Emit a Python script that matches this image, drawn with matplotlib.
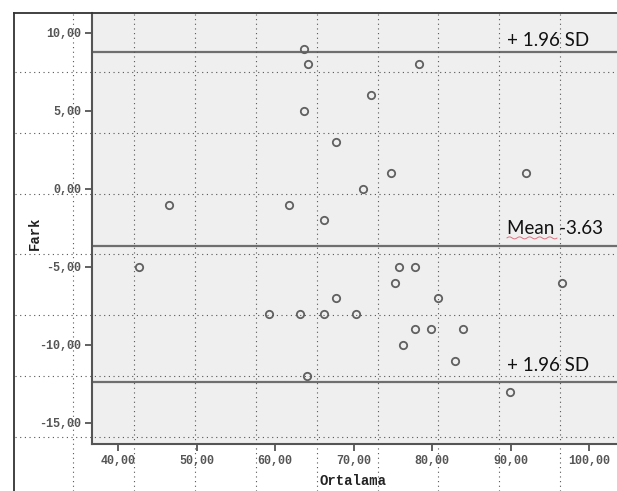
import numpy as np
import matplotlib
matplotlib.use("Agg")
import matplotlib.pyplot as plt
from matplotlib.lines import Line2D

# ---- data ----
ortalama = [63.7, 64.2, 78.3, 72.2, 63.7, 67.7, 74.8, 71.2, 61.7, 66.2,
            46.5, 92.0, 42.6, 75.8, 77.8, 75.3, 96.5, 67.7, 80.8, 59.2,
            63.2, 66.2, 70.3, 77.8, 79.8, 83.9, 76.3, 82.9, 64.1, 89.9]
fark = [9, 8, 8, 6, 5, 3, 1, 0, -1, -2,
        -1, 1, -5, -5, -5, -6, -6, -7, -7, -8,
        -8, -8, -8, -9, -9, -9, -10, -11, -12, -13]
upper_limit = 8.78
mean_diff = -3.63
lower_limit = -12.4
x_ticks = [40, 50, 60, 70, 80, 90, 100]
y_ticks = [10, 5, 0, -5, -10, -15]
line_labels = ["+ 1.96 SD", "Mean -3.63", "+ 1.96 SD"]

W, H = 617, 491
fig = plt.figure(figsize=(W / 100, H / 100), dpi=100)
fig.patch.set_facecolor("white")

L, R, T, B = 92, 617, 13, 444
ax = fig.add_axes([L / W, 1 - B / H, (R - L) / W, (B - T) / H])
ax.set_facecolor("#efefef")
ax.set_xlim(36.65, 103.57)
ax.set_ylim(-16.35, 11.28)

for v in (upper_limit, mean_diff, lower_limit):
    ax.axhline(v, color="#6e6e6e", lw=1.6, zorder=2)

ax.plot(ortalama, fark, ls="none", marker="o", ms=5.3, mfc="none",
        mec="#606060", mew=1.3, zorder=3)

ax.set_xticks(x_ticks)
ax.set_yticks(y_ticks)
fmt = lambda v: f"{v:.2f}".replace(".", ",")
tick_font = dict(family="Liberation Mono", size=8.5, weight="bold")
ax.set_xticklabels([fmt(v) for v in x_ticks], fontdict=tick_font, color="#555555")
ax.set_yticklabels([fmt(v) for v in y_ticks], fontdict=tick_font, color="#555555")
ax.tick_params(direction="out", length=5, width=1.3, color="#555555", pad=3)

for s in ("top", "right"):
    ax.spines[s].set_visible(False)
for s in ("left", "bottom"):
    ax.spines[s].set_color("#555555")
    ax.spines[s].set_linewidth(1.5)

ax.set_xlabel("Ortalama", family="Liberation Mono", size=10, weight="bold", color="#222222")
ax.set_ylabel("Fark", family="Liberation Mono", size=10, weight="bold", color="#222222")
ax.xaxis.set_label_coords((353 - L) / (R - L), (B - 474) / (B - T))
ax.yaxis.set_label_coords((42 - L) / (R - L), 0.49)

txt_font = dict(family="Lato", size=13.5, color="#111111")
ax.text(89.55, upper_limit + 0.4, line_labels[0], ha="left", va="baseline", **txt_font)
t_mean = ax.text(89.55, mean_diff + 0.75, line_labels[1], ha="left", va="baseline", **txt_font)
ax.text(89.55, lower_limit + 0.7, line_labels[2], ha="left", va="baseline", **txt_font)

# red spell-check squiggle under "Mean"
fig.canvas.draw()
renderer = fig.canvas.get_renderer()
bb = t_mean.get_window_extent(renderer)
x0 = bb.x0
x1 = bb.x0 + bb.width * 0.52
xs = np.linspace(x0, x1, 80)
ys = bb.y0 - 1.0 + 1.0 * np.sin((xs - x0) / 1.6)
fig.add_artist(Line2D(xs / W, ys / H, color="#e07080", lw=0.7, zorder=6))

# outer frame
fig.add_artist(Line2D([14 / W, 14 / W], [0, 1 - 13 / H], color="#333333", lw=1.3, zorder=8))
fig.add_artist(Line2D([14 / W, 1], [1 - 13 / H, 1 - 13 / H], color="#333333", lw=1.3, zorder=8))

# page dotted grid overlay
dot = dict(color="#555555", lw=0.8, ls=(0, (1, 3.2)), zorder=7)
for k in range(9):
    x = 73.3 + 60.85 * k
    if x < W:
        fig.add_artist(Line2D([x / W, x / W], [0, 1 - 14 / H], **dot))
for k in range(7):
    y = 71.7 + 60.9 * k
    fig.add_artist(Line2D([15 / W, 1], [1 - y / H, 1 - y / H], **dot))

fig.savefig("out.png", dpi=100)
